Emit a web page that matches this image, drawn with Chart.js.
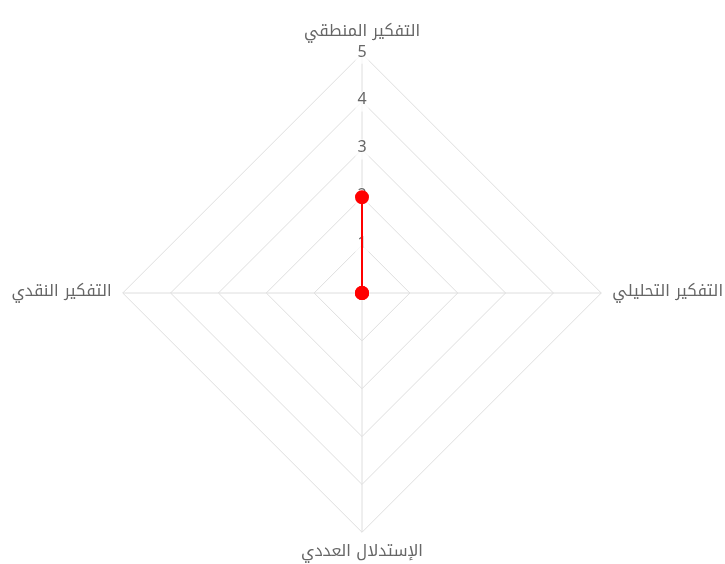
<!DOCTYPE html>
<html lang="ar">
<head>
<meta charset="utf-8">
<script src="https://cdn.jsdelivr.net/npm/chart.js@4"></script>
<style>
  html,body{margin:0;padding:0;background:#fff;overflow:hidden;}
  #wrap{width:721px;height:588px;margin-left:7px;position:relative;}
</style>
</head>
<body>
<div id="wrap"><canvas id="radar"></canvas></div>
<script>
const labels = ['التفكير المنطقي', 'التفكير التحليلي', 'الإستدلال العددي', 'التفكير النقدي'];
const scores = [2, 0, 0, 0];
const tickMax = 5;

(function(){
  const font = "'Noto Kufi Arabic', 'Noto Sans', sans-serif";
  const ctx = document.getElementById('radar').getContext('2d');
  new Chart(ctx, {
    type: 'radar',
    data: {
      labels: labels,
      datasets: [{
        label: 'النتيجة',
        data: scores,
        borderColor: '#ff0000',
        backgroundColor: 'rgba(255,0,0,0)',
        borderWidth: 2,
        pointBackgroundColor: '#ff0000',
        pointBorderColor: '#ff0000',
        pointRadius: 6,
        fill: false
      }]
    },
    options: {
      responsive: true,
      maintainAspectRatio: false,
      animation: false,
      layout: { padding: 0 },
      plugins: { legend: { display: false }, tooltip: { enabled: false } },
      scales: {
        r: {
          min: 0,
          max: tickMax,
          ticks: { stepSize: 1, color: '#666', font: { size: 16, family: font }, backdropColor: 'rgba(255,255,255,0.75)' },
          grid: { color: '#dedede' },
          angleLines: { color: '#dedede' },
          pointLabels: { color: '#666', padding: 1, font: { size: 16, family: font } }
        }
      }
    }
  });
})();
</script>
</body>
</html>
